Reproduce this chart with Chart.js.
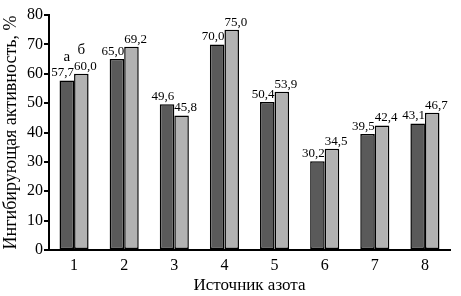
<!DOCTYPE html>
<html><head><meta charset="utf-8">
<script src="https://cdn.jsdelivr.net/npm/chart.js@4/dist/chart.umd.min.js"></script>
<style>html,body{margin:0;padding:0;background:#fff}#w{width:461px;height:296px}</style>
</head><body><div id="w"><canvas id="c"></canvas></div>
<script>
const categories = ['1','2','3','4','5','6','7','8'];
const seriesA = [57.7, 65.0, 49.6, 70.0, 50.4, 30.2, 39.5, 43.1];
const seriesB = [60.0, 69.2, 45.8, 75.0, 53.9, 34.5, 42.4, 46.7];
const seriesLetters = ['а', 'б'];
const yTicks = [0,10,20,30,40,50,60,70,80];
const yTitle = 'Ингибирующая активность, %';
const xTitle = 'Источник азота';

const SERIF = '"Liberation Serif","Times New Roman",serif';
const fmt = v => v.toFixed(1).replace('.', ',');

const labelPlugin = {
  id: 'vals',
  afterDatasetsDraw(chart) {
    const ctx = chart.ctx;
    ctx.save();
    ctx.fillStyle = '#000';
    ctx.font = '13px ' + SERIF;
    ctx.textBaseline = 'bottom';
    chart.data.datasets.forEach((ds, di) => {
      const meta = chart.getDatasetMeta(di);
      meta.data.forEach((bar, i) => {
        const half = bar.width / 2;
        if (di === 0) {
          ctx.textAlign = 'right';
          ctx.fillText(fmt(ds.data[i]), bar.x + half, bar.y - 1);
        } else {
          ctx.textAlign = 'left';
          ctx.fillText(fmt(ds.data[i]), bar.x - half, bar.y - 1);
        }
      });
    });
    ctx.font = '15px ' + SERIF;
    ctx.textAlign = 'center';
    chart.data.datasets.forEach((ds, di) => {
      const bar = chart.getDatasetMeta(di).data[0];
      ctx.fillText(seriesLetters[di], bar.x, bar.y - 16);
    });
    ctx.restore();
  }
};

new Chart(document.getElementById('c'), {
  type: 'bar',
  data: {
    labels: categories,
    datasets: [
      { label: seriesLetters[0], data: seriesA, backgroundColor: '#5a5a5a', borderColor: '#000', borderWidth: 1.5, borderSkipped: false, categoryPercentage: 0.58, barPercentage: 1 },
      { label: seriesLetters[1], data: seriesB, backgroundColor: '#b2b2b2', borderColor: '#000', borderWidth: 1.5, borderSkipped: false, categoryPercentage: 0.58, barPercentage: 1 }
    ]
  },
  options: {
    responsive: true,
    maintainAspectRatio: false,
    animation: false,
    layout: { padding: { top: 15, right: 11, left: 0, bottom: 0 } },
    plugins: { legend: { display: false }, tooltip: { enabled: false } },
    scales: {
      x: {
        grid: { display: false, drawTicks: false },
        border: { display: true, color: '#000', width: 2 },
        ticks: { color: '#000', font: { family: SERIF, size: 16 }, padding: 6 },
        title: { display: true, text: xTitle, color: '#000', font: { family: SERIF, size: 17 }, padding: { top: 0, bottom: 0 } },
        afterFit(s) { s.height = 46; }
      },
      y: {
        min: 0, max: 80,
        afterBuildTicks(s) { s.ticks = yTicks.map(v => ({ value: v })); },
        grid: { drawOnChartArea: false, drawTicks: true, tickLength: 5, color: '#000', lineWidth: 2 },
        border: { display: true, color: '#000', width: 2 },
        ticks: { color: '#000', font: { family: SERIF, size: 16 }, padding: 1 },
        title: { display: true, text: yTitle, color: '#000', font: { family: SERIF, size: 18 }, padding: { top: 0, bottom: 0 } },
        afterFit(s) { s.width = 49; }
      }
    }
  },
  plugins: [labelPlugin]
});
</script>
</body></html>
